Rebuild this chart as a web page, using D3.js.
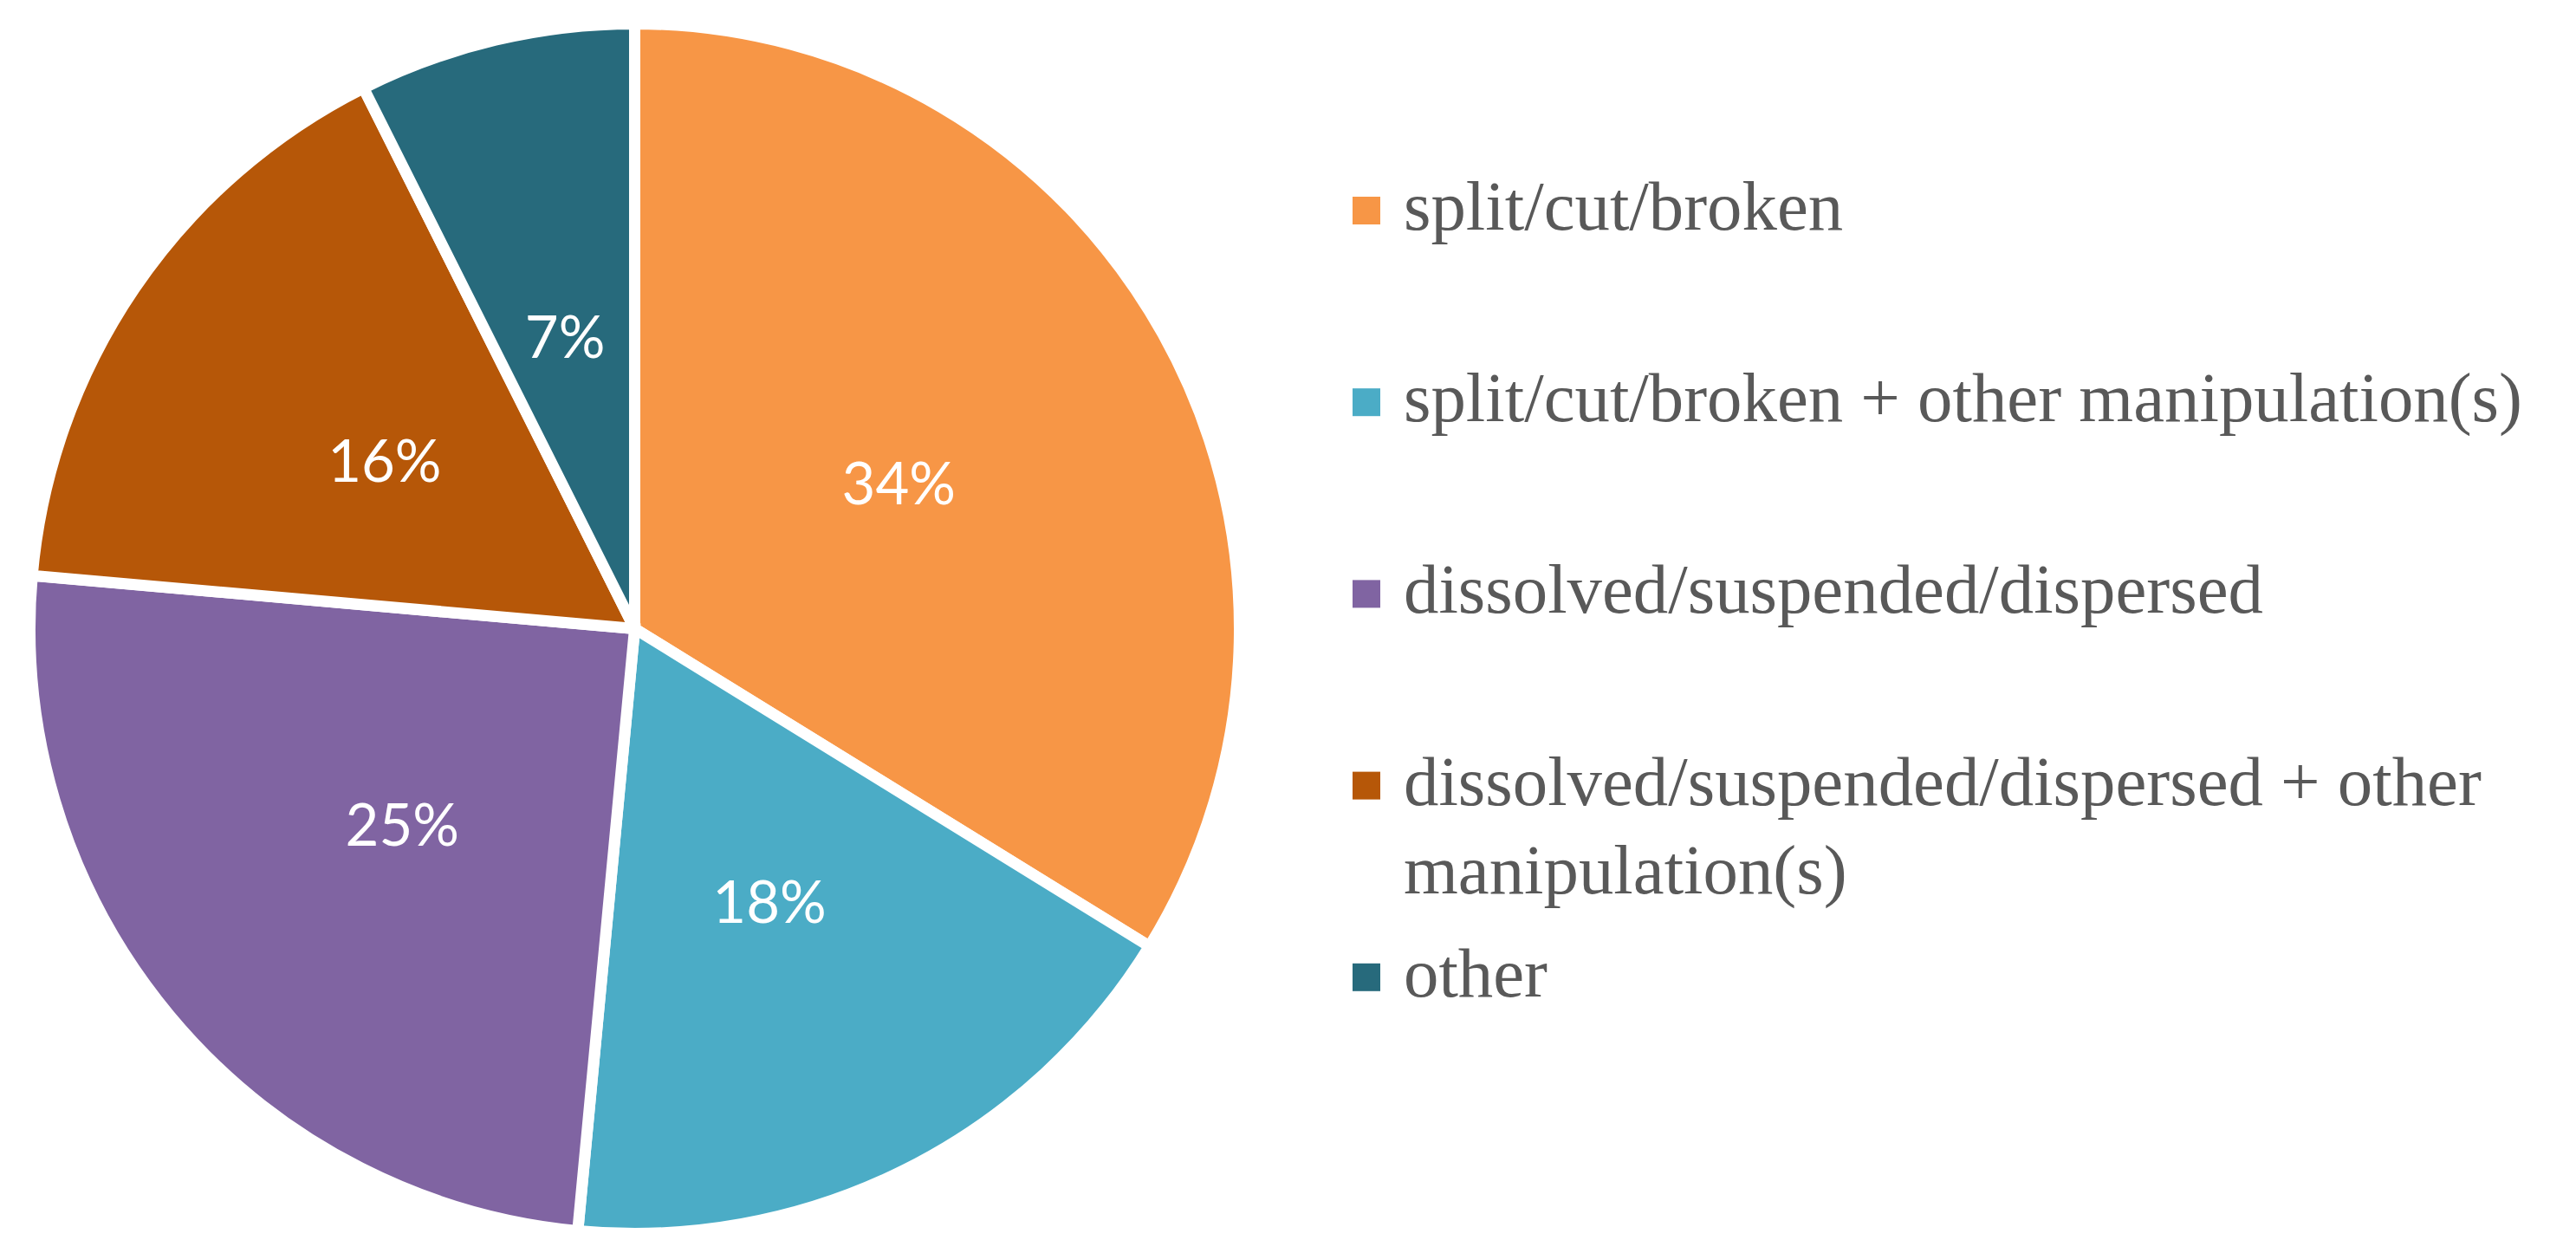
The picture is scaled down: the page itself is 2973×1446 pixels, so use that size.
<!DOCTYPE html>
<html>
<head>
<meta charset="utf-8">
<script src="https://cdn.jsdelivr.net/npm/d3@7"></script>
<style>
  html, body { margin: 0; padding: 0; background: #ffffff; }
  svg { display: block; }
</style>
</head>
<body>
<svg id="chart" width="2973" height="1446"></svg>
<script>
// ---- data ----
const categories = [
  "split/cut/broken",
  "split/cut/broken + other manipulation(s)",
  "dissolved/suspended/dispersed",
  "dissolved/suspended/dispersed + other manipulation(s)",
  "other"
];
const values = [33.8, 17.7, 24.9, 16.2, 7.4];
const colors = ["#F79646", "#4BACC6", "#8064A2", "#B65708", "#276A7C"];

// ---- layout ----
const W = 2973, H = 1446;
const cx = 732.5, cy = 725.5, R = 698;
const svg = d3.select("#chart");

const data = categories.map((c, i) => ({ name: c, value: values[i], color: colors[i] }));
const total = d3.sum(values);

const pie = d3.pie().value(d => d.value).sort(null).startAngle(0).endAngle(2 * Math.PI);
const arcs = pie(data);
const arc = d3.arc().innerRadius(0).outerRadius(R);

const g = svg.append("g").attr("transform", `translate(${cx},${cy})`);
g.selectAll("path.slice")
  .data(arcs)
  .join("path")
  .attr("class", "slice")
  .attr("d", arc)
  .attr("fill", d => d.data.color)
  .attr("stroke", "#ffffff")
  .attr("stroke-width", 13)
  .attr("stroke-linejoin", "miter");

const fmt = v => Math.round(v / total * 100) + "%";
g.selectAll("text.pct")
  .data(arcs)
  .join("text")
  .attr("class", "pct")
  .attr("transform", d => `translate(${arc.centroid(d)})`)
  .attr("text-anchor", "middle")
  .attr("dy", "0.40em")
  .attr("font-family", "Lato, 'Open Sans', sans-serif")
  .attr("font-size", 67)
  .attr("fill", "#ffffff")
  .text(d => fmt(d.data.value));

// ---- legend ----
const legX = 1561, textX = 1620, sq = 32;
const rowY0 = 243, rowStep = 221.2, lineH = 102, maxW = 1345;
const legFont = "'Liberation Serif', 'DejaVu Serif', serif";

// fit font size so the reference's long legend lines keep their widths
function widthAt(str, size) {
  const p = svg.append("text").attr("font-family", legFont).attr("font-size", size).text(str);
  const w = p.node().getComputedTextLength();
  p.remove();
  return w;
}
const fitA = 80 * 1295 / widthAt("dissolved/suspended/dispersed + other", 80);
const fitB = 80 * 1291 / widthAt("split/cut/broken + other manipulation(s)", 80);
const legSize = Math.min(fitA, fitB);

const leg = svg.append("g");
data.forEach((d, i) => {
  const y = rowY0 + i * rowStep;
  leg.append("rect")
    .attr("x", legX).attr("y", y - sq / 2)
    .attr("width", sq).attr("height", sq)
    .attr("fill", d.color);
  const t = leg.append("text")
    .attr("x", textX).attr("y", y + 22)
    .attr("font-family", legFont)
    .attr("font-size", legSize)
    .attr("fill", "#595959");
  // word wrap
  const words = d.name.split(" ");
  let line = [];
  let tspan = t.append("tspan").attr("x", textX).attr("dy", 0);
  words.forEach(w => {
    line.push(w);
    tspan.text(line.join(" "));
    if (tspan.node().getComputedTextLength() > maxW && line.length > 1) {
      line.pop();
      tspan.text(line.join(" "));
      line = [w];
      tspan = t.append("tspan").attr("x", textX).attr("dy", lineH).text(w);
    }
  });
});
</script>
</body>
</html>
